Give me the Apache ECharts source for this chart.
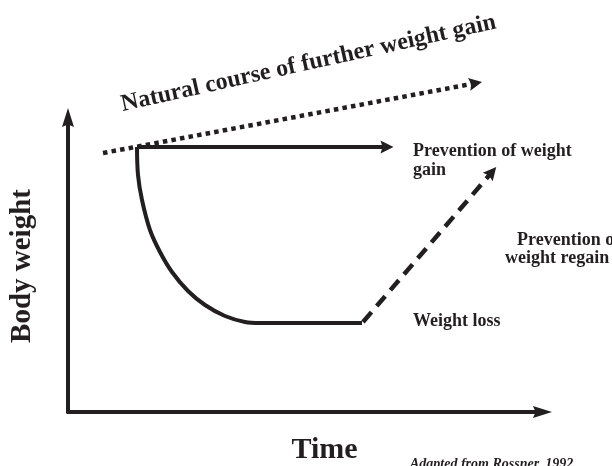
<!DOCTYPE html>
<html>
<head>
<meta charset="utf-8">
<script src="https://cdn.jsdelivr.net/npm/echarts@6/dist/echarts.min.js"></script>
<style>
html,body{margin:0;padding:0;background:#fff;}
#chart{width:612px;height:466px;}
</style>
</head>
<body>
<div id="chart"></div>
<script>
// Values in diagram units (time along x, body weight along y)
var lossCurveX = [69, 70, 74, 82, 92, 104, 120, 137, 157, 177, 192, 294];
var lossCurveY = [265, 237, 212, 182, 160, 140, 121, 107, 96, 90, 89, 89];
var preventGain = [[69, 265], [319, 265]];
var naturalCourse = [[35, 259], [407.6, 328.8]];
var preventRegain = [[295, 90], [424, 240]];
var xRange = [0, 474.5];
var yRange = [0, 294.5];

var ink = '#231f20';
var serif = '"Liberation Serif", "Times New Roman", serif';
var arrowPath = 'path://M5,0 L10,13 L5,11 L0,13 Z';
var axisArrow = 'path://M6,0 L12,19 L6,16.5 L0,19 Z';

var curveData = lossCurveX.map(function (x, i) { return [x, lossCurveY[i]]; });

function txt(text, x, y, size, opts) {
  opts = opts || {};
  return {
    type: 'text', x: x, y: y, rotation: opts.rotation || 0, silent: true,
    style: {
      text: text,
      font: (opts.italic ? 'italic ' : '') + 'bold ' + size + 'px ' + serif,
      fill: ink,
      align: opts.align || 'left',
      verticalAlign: 'middle'
    }
  };
}

var chart = echarts.init(document.getElementById('chart'));
chart.setOption({
  animation: false,
  backgroundColor: '#ffffff',
  grid: { left: 68, right: 69.5, top: 117.5, bottom: 54 },
  xAxis: {
    type: 'value', min: xRange[0], max: xRange[1],
    axisLine: { show: true, onZero: false, symbol: ['none', axisArrow], symbolSize: [12, 19],
      lineStyle: { color: ink, width: 4 } },
    axisTick: { show: false }, axisLabel: { show: false }, splitLine: { show: false }
  },
  yAxis: {
    type: 'value', min: yRange[0], max: yRange[1],
    axisLine: { show: true, onZero: false, symbol: ['none', axisArrow], symbolSize: [12, 19],
      lineStyle: { color: ink, width: 4 } },
    axisTick: { show: false }, axisLabel: { show: false }, splitLine: { show: false }
  },
  series: [
    {
      type: 'line', data: curveData, smooth: 0.35, showSymbol: false,
      symbol: 'none', clip: false, silent: true,
      lineStyle: { color: ink, width: 4 }
    },
    {
      type: 'lines', coordinateSystem: 'cartesian2d', clip: false, silent: true,
      symbol: ['none', arrowPath], symbolSize: 13,
      data: [{ coords: preventGain }],
      lineStyle: { color: ink, width: 4, opacity: 1, curveness: 0 },
      itemStyle: { color: ink }
    },
    {
      type: 'lines', coordinateSystem: 'cartesian2d', clip: false, silent: true,
      symbol: ['none', arrowPath], symbolSize: 13,
      data: [{ coords: naturalCourse }],
      lineStyle: { color: ink, width: 4.5, opacity: 1, type: [4.5, 4.2], cap: 'butt' },
      itemStyle: { color: ink }
    },
    {
      type: 'lines', coordinateSystem: 'cartesian2d', clip: false, silent: true,
      symbol: ['none', arrowPath], symbolSize: 13,
      data: [{ coords: preventRegain }],
      lineStyle: { color: ink, width: 4.5, opacity: 1, type: [13, 8], cap: 'butt' },
      itemStyle: { color: ink }
    }
  ],
  graphic: [
    txt('Natural course of further weight gain', 308.5, 63.5, 24, { align: 'center', rotation: 0.218 }),
    txt('Prevention of weight', 413, 151.2, 18),
    txt('gain', 413, 170.6, 18),
    txt('Prevention of', 517, 240, 18),
    txt('weight regain', 505, 258.5, 18),
    txt('Weight loss', 413, 321.5, 18),
    txt('Time', 324.5, 450, 30, { align: 'center' }),
    txt('Body weight', 22.5, 266, 29, { align: 'center', rotation: Math.PI / 2 }),
    txt('Adapted from Rossner, 1992', 410, 464.7, 14, { italic: true })
  ]
});
</script>
</body>
</html>
